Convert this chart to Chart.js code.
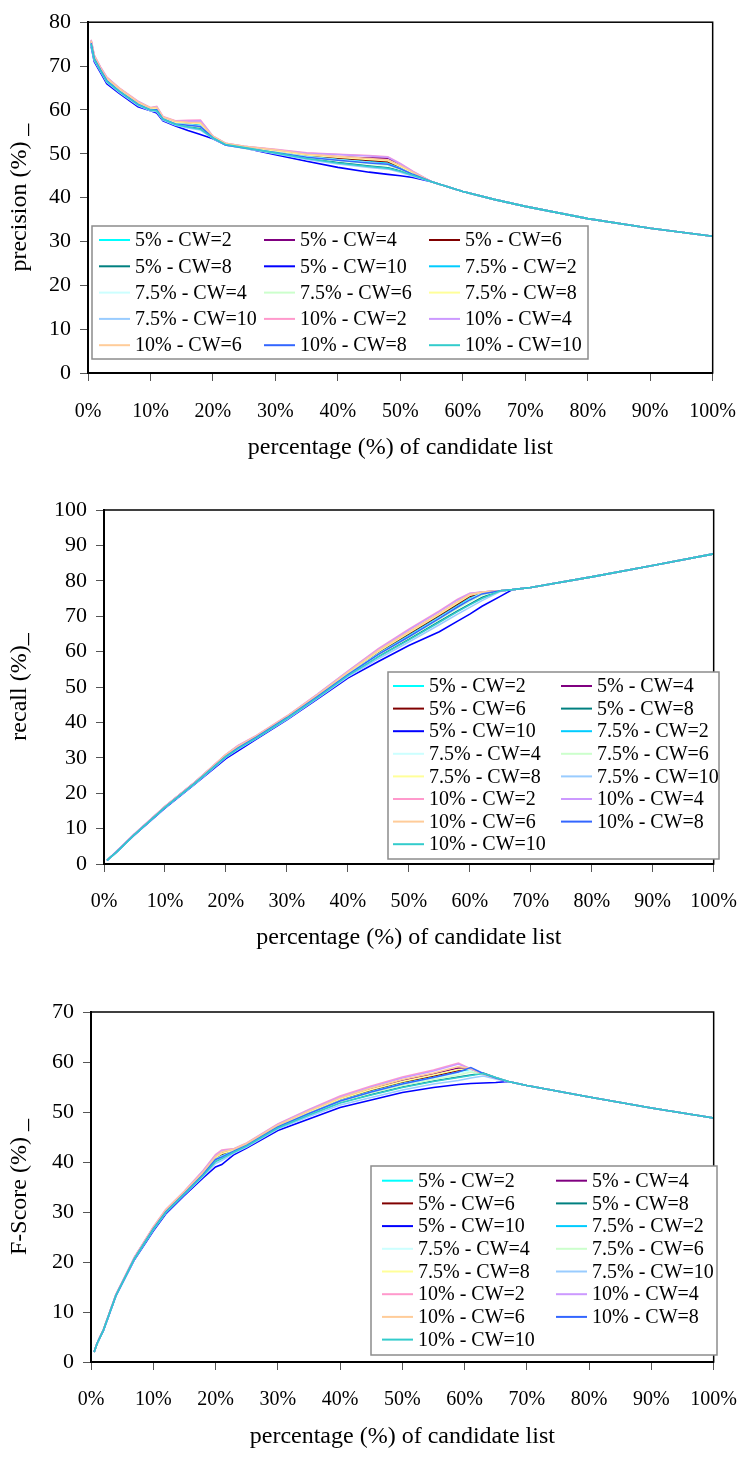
<!DOCTYPE html>
<html><head><meta charset="utf-8">
<script src="https://cdn.jsdelivr.net/npm/chart.js@4.4.1/dist/chart.umd.min.js"></script>
<style>
html,body{margin:0;padding:0;background:#fff;width:755px;height:1457px;overflow:hidden;position:relative}
canvas{position:absolute;left:0}
</style></head><body>
<canvas id="c1" width="755" height="470" style="top:0px"></canvas>
<canvas id="c2" width="755" height="480" style="top:480px"></canvas>
<canvas id="c3" width="755" height="482" style="top:975px"></canvas>
<script>
// ---------- DATA ----------
const seriesLabels = ['5% - CW=2','5% - CW=4','5% - CW=6','5% - CW=8','5% - CW=10',
  '7.5% - CW=2','7.5% - CW=4','7.5% - CW=6','7.5% - CW=8','7.5% - CW=10',
  '10% - CW=2','10% - CW=4','10% - CW=6','10% - CW=8','10% - CW=10'];
const seriesColors = ['#00FFFF','#800080','#800000','#008080','#0000FF',
  '#00CCFF','#CCFFFF','#CCFFCC','#FFFF99','#99CCFF',
  '#FF99CC','#CC99FF','#FFCC99','#3366FF','#33CCCC'];

// percentage of candidate list (x values)
const precisionX = [0.5,1,2,3,5,8,10,11,12,14,16,18,20,22,25,30,35,40,45,48,50,52,55,60,65,70,80,90,100];
const recallX    = [0.5,2,5,10,15,20,22,25,30,35,40,45,50,55,58,60,62,65,67,70,80,90,100];
const fscoreX    = [0.5,1,2,4,7,10,12,15,18,20,21,23,25,30,35,40,45,50,55,59,61,63,65,67,70,80,90,100];

const precisionValues = [
 [75.5,72.0,69.4,67.0,64.6,61.6,60.3,60.3,58.2,57.1,56.8,56.5,53.9,52.3,51.6,50.6,49.5,48.8,48.2,47.8,46.8,45.5,43.6,41.4,39.6,38.0,35.2,33.0,31.2],
 [75.7,72.2,69.5,67.2,64.8,61.7,60.4,60.5,58.3,57.3,57.0,56.2,53.9,52.3,51.6,50.8,49.8,49.3,49.0,49.0,47.3,45.7,43.6,41.4,39.6,38.0,35.2,33.0,31.2],
 [75.4,71.9,69.2,66.9,64.5,61.4,60.1,60.2,58.0,57.0,56.6,56.1,53.7,52.1,51.4,50.5,49.5,49.0,48.5,48.2,47.0,45.5,43.6,41.4,39.6,38.0,35.2,33.0,31.2],
 [75.1,71.6,69.1,66.6,64.3,61.3,60.1,59.9,58.0,56.8,56.2,55.7,53.7,52.2,51.5,50.3,49.0,48.0,47.2,46.8,46.1,45.2,43.6,41.4,39.6,38.0,35.2,33.0,31.2],
 [74.5,71.0,68.5,66.0,63.8,60.7,59.8,59.3,57.5,56.3,55.3,54.4,53.4,52.0,51.3,49.8,48.3,46.9,45.8,45.3,45.0,44.6,43.6,41.4,39.6,38.0,35.2,33.0,31.2],
 [75.4,71.9,69.3,66.9,64.5,61.5,60.2,60.2,58.1,57.0,56.7,56.4,53.8,52.2,51.5,50.5,49.4,48.7,48.1,47.7,46.7,45.4,43.6,41.4,39.6,38.0,35.2,33.0,31.2],
 [75.3,71.8,69.2,66.8,64.4,61.4,60.1,60.1,58.0,56.9,56.6,56.3,53.7,52.1,51.4,50.4,49.3,48.6,48.0,47.6,46.6,45.3,43.6,41.4,39.6,38.0,35.2,33.0,31.2],
 [75.1,71.6,69.0,66.6,64.2,61.2,59.9,59.9,57.8,56.7,56.4,56.1,53.5,52.0,51.2,50.2,49.1,48.4,47.8,47.4,46.4,45.2,43.6,41.4,39.6,38.0,35.2,33.0,31.2],
 [75.6,72.1,69.4,67.1,64.7,61.6,60.3,60.4,58.2,57.2,57.0,56.9,53.8,52.2,51.5,50.7,49.7,49.2,48.7,48.4,47.1,45.6,43.6,41.4,39.6,38.0,35.2,33.0,31.2],
 [74.8,71.3,68.8,66.3,64.0,61.0,59.8,59.6,57.7,56.5,55.9,55.4,53.5,52.0,51.3,50.0,48.7,47.7,46.9,46.5,45.8,44.9,43.6,41.4,39.6,38.0,35.2,33.0,31.2],
 [76.0,72.5,69.8,67.5,65.0,62.0,60.5,60.8,58.5,57.5,57.6,57.7,54.0,52.4,51.7,51.0,50.2,49.9,49.6,49.3,47.8,46.0,43.6,41.4,39.6,38.0,35.2,33.0,31.2],
 [75.9,72.4,69.7,67.4,64.9,61.9,60.5,60.7,58.4,57.4,57.4,57.5,54.0,52.4,51.7,50.9,50.1,49.8,49.5,49.2,47.7,45.9,43.6,41.4,39.6,38.0,35.2,33.0,31.2],
 [75.8,72.3,69.6,67.3,64.9,61.8,60.5,60.6,58.4,57.4,57.2,57.1,54.0,52.4,51.7,50.9,49.9,49.4,48.9,48.6,47.3,45.8,43.6,41.4,39.6,38.0,35.2,33.0,31.2],
 [75.2,71.7,69.1,66.7,64.3,61.3,60.0,60.0,57.9,56.8,56.5,56.2,53.6,52.0,51.3,50.3,49.2,48.5,47.9,47.6,46.6,45.3,43.6,41.4,39.6,38.0,35.2,33.0,31.2],
 [75.0,71.5,69.0,66.5,64.2,61.2,60.0,59.8,57.9,56.7,56.1,55.6,53.6,52.1,51.4,50.2,48.9,47.9,47.1,46.7,46.0,45.1,43.6,41.4,39.6,38.0,35.2,33.0,31.2]
];

const recallValues = [
 [1.0,3.4,8.4,16.1,23.1,30.6,33.0,36.0,41.5,47.5,53.8,59.5,64.7,69.9,73.1,75.1,76.7,77.2,77.5,78.1,81.1,84.3,87.6],
 [1.0,3.4,8.4,16.2,23.2,30.8,33.2,36.1,41.6,47.7,54.1,60.1,65.4,70.6,73.9,76.0,76.8,77.2,77.5,78.1,81.1,84.3,87.6],
 [1.0,3.4,8.4,16.1,23.1,30.7,33.0,35.9,41.4,47.5,53.8,59.8,65.0,70.2,73.4,75.6,76.6,77.2,77.5,78.1,81.1,84.3,87.6],
 [1.0,3.3,8.3,16.0,22.9,30.3,32.7,35.7,41.2,47.1,53.3,58.7,63.5,68.5,71.5,73.4,75.3,77.2,77.5,78.1,81.1,84.3,87.6],
 [1.0,3.3,8.2,15.8,22.7,29.8,32.0,35.3,40.7,46.6,52.5,57.2,61.7,65.6,68.6,70.6,72.8,75.6,77.5,78.1,81.1,84.3,87.6],
 [1.0,3.4,8.4,16.1,23.1,30.5,32.9,35.9,41.4,47.4,53.7,59.4,64.5,69.7,72.9,74.9,76.6,77.2,77.5,78.1,81.1,84.3,87.6],
 [1.0,3.4,8.4,16.1,23.0,30.5,32.8,35.8,41.3,47.3,53.6,59.3,64.3,69.5,72.7,74.7,76.5,77.2,77.5,78.1,81.1,84.3,87.6],
 [1.0,3.4,8.3,16.0,23.0,30.4,32.7,35.7,41.2,47.2,53.4,59.0,64.0,69.1,72.2,74.2,76.0,77.2,77.5,78.1,81.1,84.3,87.6],
 [1.0,3.4,8.4,16.2,23.1,30.7,33.1,36.0,41.5,47.6,54.0,60.0,65.3,70.5,73.8,75.9,76.7,77.2,77.5,78.1,81.1,84.3,87.6],
 [1.0,3.3,8.3,15.9,22.8,30.1,32.4,35.5,40.9,46.8,52.9,58.0,62.7,67.6,70.6,72.5,74.4,77.0,77.5,78.1,81.1,84.3,87.6],
 [1.0,3.5,8.5,16.3,23.3,31.0,33.5,36.3,41.8,48.0,54.5,60.8,66.3,71.5,74.8,76.5,76.8,77.2,77.5,78.1,81.1,84.3,87.6],
 [1.0,3.5,8.5,16.3,23.3,30.9,33.4,36.2,41.7,47.9,54.4,60.6,66.1,71.3,74.6,76.4,76.8,77.2,77.5,78.1,81.1,84.3,87.6],
 [1.0,3.4,8.4,16.2,23.2,30.9,33.3,36.2,41.7,47.8,54.2,60.3,65.6,70.8,74.1,76.1,76.8,77.2,77.5,78.1,81.1,84.3,87.6],
 [1.0,3.4,8.3,16.0,23.0,30.4,32.8,35.8,41.3,47.3,53.5,59.2,64.2,69.4,72.6,74.6,76.3,77.2,77.5,78.1,81.1,84.3,87.6],
 [1.0,3.3,8.3,16.0,22.9,30.3,32.6,35.6,41.1,47.0,53.2,58.5,63.3,68.3,71.3,73.2,75.0,77.2,77.5,78.1,81.1,84.3,87.6]
];

const fscoreValues = [
 [2.0,3.8,6.4,13.4,20.8,26.7,30.1,33.8,37.7,40.7,41.4,42.3,43.5,47.2,49.9,52.4,54.2,55.8,57.0,58.0,58.5,57.6,56.8,56.1,55.3,53.0,50.8,48.8],
 [2.0,3.8,6.5,13.4,20.9,26.8,30.3,34.0,37.9,41.0,41.8,42.5,43.6,47.3,50.1,52.7,54.6,56.3,57.6,58.8,58.7,57.6,56.8,56.1,55.3,53.0,50.8,48.8],
 [2.0,3.8,6.4,13.4,20.8,26.7,30.2,33.9,37.7,40.8,41.5,42.4,43.5,47.2,49.9,52.5,54.3,55.9,57.2,58.3,58.5,57.6,56.8,56.1,55.3,53.0,50.8,48.8],
 [2.0,3.7,6.4,13.3,20.7,26.5,29.9,33.6,37.3,40.2,40.8,42.1,43.3,46.9,49.5,51.9,53.5,55.0,56.2,57.0,57.4,57.8,56.9,56.1,55.3,53.0,50.8,48.8],
 [2.0,3.7,6.3,13.2,20.5,26.2,29.6,33.3,36.8,39.0,39.5,41.5,42.8,46.3,48.6,50.9,52.4,53.9,54.9,55.5,55.7,55.8,55.9,56.1,55.3,53.0,50.8,48.8],
 [2.0,3.8,6.4,13.4,20.8,26.7,30.1,33.8,37.6,40.6,41.2,42.3,43.4,47.1,49.8,52.3,54.1,55.7,56.9,57.9,58.4,57.6,56.8,56.1,55.3,53.0,50.8,48.8],
 [2.0,3.8,6.4,13.4,20.8,26.6,30.0,33.7,37.5,40.5,41.1,42.2,43.4,47.0,49.7,52.2,54.0,55.6,56.8,57.8,58.3,57.6,56.8,56.1,55.3,53.0,50.8,48.8],
 [2.0,3.7,6.4,13.3,20.7,26.6,30.0,33.7,37.4,40.3,40.9,42.1,43.3,46.9,49.6,52.0,53.8,55.3,56.5,57.4,58.0,57.5,56.8,56.1,55.3,53.0,50.8,48.8],
 [2.0,3.8,6.5,13.4,20.9,26.8,30.2,33.9,37.8,40.9,41.7,42.4,43.5,47.2,50.0,52.6,54.5,56.1,57.4,58.5,58.6,57.6,56.8,56.1,55.3,53.0,50.8,48.8],
 [2.0,3.7,6.3,13.2,20.6,26.4,29.8,33.5,37.1,39.7,40.3,41.8,43.0,46.6,49.1,51.4,52.9,54.4,55.6,56.3,56.8,57.2,56.6,56.1,55.3,53.0,50.8,48.8],
 [2.0,3.8,6.5,13.5,21.0,27.0,30.5,34.2,38.3,41.5,42.4,42.7,43.8,47.6,50.5,53.2,55.2,57.0,58.4,59.8,58.6,57.6,56.8,56.1,55.3,53.0,50.8,48.8],
 [2.0,3.8,6.5,13.5,21.0,26.9,30.4,34.1,38.2,41.3,42.2,42.6,43.7,47.5,50.4,53.0,55.0,56.8,58.2,59.6,58.6,57.6,56.8,56.1,55.3,53.0,50.8,48.8],
 [2.0,3.8,6.5,13.4,20.9,26.9,30.4,34.1,38.0,41.1,42.0,42.6,43.7,47.4,50.2,52.8,54.8,56.5,57.8,59.1,58.7,57.6,56.8,56.1,55.3,53.0,50.8,48.8],
 [2.0,3.8,6.4,13.3,20.7,26.6,30.0,33.7,37.5,40.5,41.0,42.2,43.3,47.0,49.7,52.2,54.0,55.6,56.9,58.0,58.9,57.7,56.8,56.1,55.3,53.0,50.8,48.8],
 [2.0,3.7,6.4,13.3,20.7,26.5,29.9,33.6,37.3,40.1,40.7,42.0,43.2,46.8,49.4,51.8,53.4,54.9,56.1,56.9,57.3,57.7,56.9,56.1,55.3,53.0,50.8,48.8]
];

const xTitle = 'percentage (%) of candidate list';
const precisionTitle = 'precision (%) _';
const recallTitle = 'recall (%)_';
const fscoreTitle = 'F-Score (%) _';

// ---------- RENDERING ----------
const FONT = '"Liberation Serif", "Times New Roman", serif';

const framePlugin = {
  id: 'frame',
  afterDatasetsDraw(chart, args, opts) {
    const {ctx, chartArea: a} = chart;
    ctx.save();
    ctx.strokeStyle = '#000';
    ctx.lineWidth = 1.5;
    ctx.strokeRect(a.left, a.top, a.right - a.left, a.bottom - a.top);
    const L = opts.legend;
    ctx.fillStyle = '#fff';
    ctx.fillRect(L.x, L.y, L.w, L.h);
    ctx.strokeStyle = '#8c8c8c';
    ctx.lineWidth = 1.5;
    ctx.strokeRect(L.x, L.y, L.w, L.h);
    ctx.font = '20px ' + FONT;
    ctx.textBaseline = 'middle';
    ctx.textAlign = 'left';
    chart.data.datasets.forEach((ds, i) => {
      const col = i % L.cols, row = Math.floor(i / L.cols);
      const x = L.x0 + col * L.colW, y = L.y0 + row * L.rowH;
      ctx.strokeStyle = ds.borderColor;
      ctx.lineWidth = 2;
      ctx.beginPath(); ctx.moveTo(x, y); ctx.lineTo(x + 31, y); ctx.stroke();
      ctx.fillStyle = '#000';
      ctx.fillText(ds.label, x + 36, y + 1);
    });
    ctx.restore();
  }
};

function makeChart(id, cfg) {
  const el = document.getElementById(id);
  const H = el.height;
  new Chart(el, {
    type: 'line',
    data: {
      datasets: seriesLabels.map((lab, i) => ({
        label: lab,
        data: cfg.x.map((x, j) => ({x: x, y: cfg.values[i][j]})),
        borderColor: seriesColors[i],
        backgroundColor: seriesColors[i],
        borderWidth: 1.6,
        pointRadius: 0,
        tension: 0,
        fill: false,
        order: 14 - i
      }))
    },
    options: {
      responsive: false, animation: false, devicePixelRatio: 1,
      layout: {padding: {top: cfg.area.top, right: 755 - cfg.area.right, left: 0, bottom: 0}},
      plugins: {legend: {display: false}, tooltip: {enabled: false}, frame: {legend: cfg.legend}},
      scales: {
        x: {
          type: 'linear', min: 0, max: 100,
          afterFit(s) { s.height = H - cfg.area.bottom; },
          ticks: {stepSize: 10, autoSkip: false, maxRotation: 0, callback: v => v + '%',
                  font: {family: FONT, size: 20}, color: '#000', padding: cfg.xTickPad},
          grid: {drawOnChartArea: false, drawTicks: true, tickLength: 8, color: '#555'},
          border: {display: true, color: '#000', width: 2},
          title: {display: true, text: xTitle, font: {family: FONT, size: 24}, color: '#000',
                  padding: {top: 0, bottom: cfg.xTitlePad}}
        },
        y: {
          min: 0, max: cfg.yMax,
          afterFit(s) { s.width = cfg.area.left; },
          ticks: {stepSize: 10, font: {family: FONT, size: 22}, color: '#000', padding: 9},
          grid: {drawOnChartArea: false, drawTicks: true, tickLength: 8, color: '#555'},
          border: {display: true, color: '#000', width: 2},
          title: {display: true, text: cfg.yTitle, font: {family: FONT, size: 24}, color: '#000',
                  padding: {top: 5, bottom: 0}}
        }
      }
    },
    plugins: [framePlugin]
  });
}

makeChart('c1', {
  x: precisionX, values: precisionValues, yMax: 80, yTitle: precisionTitle,
  area: {left: 88, right: 726, top: 12, bottom: 373},
  xTickPad: 19, xTitlePad: 8,
  legend: {x: 92, y: 226, w: 496, h: 133, x0: 99, y0: 240, colW: 165, rowH: 26.3, cols: 3}
});
makeChart('c2', {
  x: recallX, values: recallValues, yMax: 100, yTitle: recallTitle,
  area: {left: 104, right: 726, top: 30, bottom: 384},
  xTickPad: 18, xTitlePad: 8,
  legend: {x: 388, y: 192, w: 331, h: 187, x0: 393, y0: 206, colW: 168, rowH: 22.6, cols: 2}
});
makeChart('c3', {
  x: fscoreX, values: fscoreValues, yMax: 70, yTitle: fscoreTitle,
  area: {left: 91, right: 723, top: 37, bottom: 387},
  xTickPad: 18, xTitlePad: 6,
  legend: {x: 371, y: 191, w: 346, h: 189, x0: 382, y0: 205.7, colW: 174, rowH: 22.7, cols: 2}
});
</script>
</body></html>
